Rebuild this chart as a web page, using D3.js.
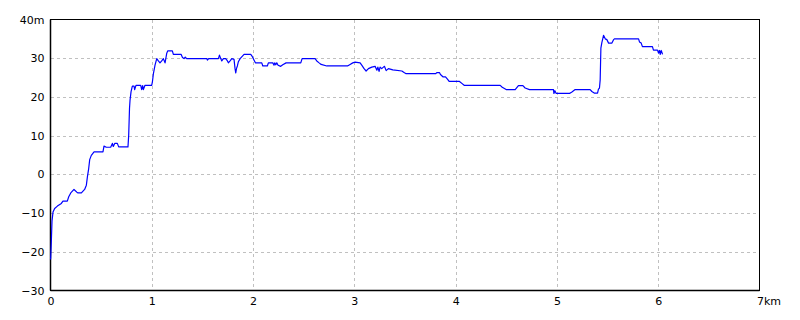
<!DOCTYPE html>
<html><head><meta charset="utf-8">
<script src="https://cdn.jsdelivr.net/npm/d3@7"></script>
<style>
html,body{margin:0;padding:0;background:#fff;}
svg{display:block;}
text{font-family:"DejaVu Sans",sans-serif;font-size:11px;fill:#000;}
</style></head><body>
<svg id="c" width="800" height="320"></svg>
<script>
const distKm = [0.000,0.002,0.008,0.015,0.025,0.041,0.068,0.107,0.123,0.166,0.180,0.200,0.232,0.260,0.272,0.305,0.337,0.354,0.364,0.377,0.387,0.403,0.430,0.518,0.528,0.551,0.594,0.611,0.620,0.634,0.660,0.673,0.765,0.772,0.780,0.785,0.795,0.808,0.825,0.831,0.844,0.891,0.900,0.910,0.917,0.933,0.999,1.006,1.016,1.032,1.049,1.065,1.081,1.098,1.114,1.131,1.147,1.157,1.203,1.213,1.289,1.303,1.318,1.330,1.345,1.543,1.549,1.562,1.658,1.668,1.681,1.691,1.707,1.730,1.747,1.756,1.773,1.790,1.812,1.822,1.829,1.836,1.845,1.855,1.872,1.911,1.977,1.993,2.010,2.023,2.086,2.096,2.141,2.151,2.195,2.207,2.214,2.224,2.234,2.247,2.273,2.293,2.326,2.471,2.484,2.612,2.629,2.652,2.672,2.728,2.932,2.958,2.984,3.007,3.057,3.073,3.096,3.116,3.139,3.172,3.205,3.222,3.232,3.244,3.254,3.270,3.287,3.297,3.314,3.336,3.380,3.469,3.491,3.511,3.804,3.814,3.840,3.850,3.874,3.900,3.919,3.936,4.038,4.061,4.084,4.440,4.460,4.499,4.588,4.620,4.664,4.686,4.729,4.966,4.970,4.980,4.993,5.124,5.148,5.180,5.328,5.345,5.368,5.401,5.410,5.420,5.427,5.434,5.444,5.454,5.460,5.477,5.493,5.510,5.543,5.559,5.570,5.806,5.815,5.832,5.844,5.943,5.953,5.993,6.003,6.013,6.020,6.030,6.043];
const elevM = [-22,-21.5,-17.5,-12,-9.7,-8.8,-8.2,-7.5,-6.9,-6.9,-5.8,-4.8,-3.9,-4.6,-4.8,-4.8,-3.9,-2.8,-0.7,1.5,3.8,4.9,5.8,5.8,7.3,7.0,7.0,8.0,7.2,8.0,8.0,7.1,7.1,10.1,17,19.1,21.3,22.8,22.8,21.9,23.0,23.0,21.9,22.9,21.9,23.0,23.0,23.9,26.0,28.2,29.9,29.3,28.8,29.3,29.9,28.8,31.2,31.9,31.9,31.0,31.0,30.2,29.9,30.3,29.9,29.9,29.5,29.9,29.9,30.8,29.9,29.3,29.9,29.9,29.3,28.8,29.3,29.9,29.7,27.3,26.2,27.3,28.0,29.1,29.9,31.0,31.0,30.4,29.5,28.8,28.8,28.0,28.0,28.8,28.8,28.2,28.8,28.3,28.8,28.2,27.9,28.3,28.8,28.8,29.9,29.9,29.3,28.8,28.4,28.0,28.0,28.4,28.8,29.0,28.8,28.2,27.3,26.7,27.3,27.7,27.9,26.9,27.7,26.6,27.7,27.3,27.7,27.9,26.8,27.3,27.0,26.7,26.3,26.0,26.0,26.3,26.3,25.8,25.2,25.2,24.6,24.0,24.0,23.5,23.0,23.0,22.5,21.9,21.9,22.9,22.9,22.3,21.9,21.9,20.9,21.6,20.9,20.9,21.3,21.9,21.9,21.4,21.0,21.0,22.0,22.3,24.4,32.6,34.1,35.2,35.9,35.0,34.8,33.9,33.9,34.8,35.0,35.0,34.2,33.9,33.0,33.0,32.1,32.1,31.3,32.0,31.0,32.0,31.0];
const xTicks = [0,1,2,3,4,5,6,7];
const yTicks = [-30,-20,-10,0,10,20,30,40];
const xUnit = "km", yUnit = "m";

const svg = d3.select("#c");
const L = 50.5, R = 759.5, T = 19.5, B = 290.5;
const x = d3.scaleLinear().domain([0,7]).range([L,R]);
const y = d3.scaleLinear().domain([-30,40]).range([B,T]);

// grid
const g = svg.append("g");
g.selectAll(".vg").data(xTicks.slice(1,-1)).join("line")
  .attr("x1",d=>Math.round(x(d))+0.5).attr("x2",d=>Math.round(x(d))+0.5)
  .attr("y1",T).attr("y2",B)
  .attr("stroke","#c0c0c0").attr("stroke-dasharray","3,3").attr("shape-rendering","crispEdges");
g.selectAll(".hg").data(yTicks.slice(1,-1)).join("line")
  .attr("y1",d=>Math.round(y(d))+0.5).attr("y2",d=>Math.round(y(d))+0.5)
  .attr("x1",L).attr("x2",R)
  .attr("stroke","#c0c0c0").attr("stroke-dasharray","3,3").attr("shape-rendering","crispEdges");

// frame
svg.append("rect").attr("x",L).attr("y",T).attr("width",R-L).attr("height",B-T)
  .attr("fill","none").attr("stroke","#000").attr("stroke-width",1).attr("shape-rendering","crispEdges");
svg.append("line").attr("x1",L).attr("x2",L).attr("y1",T).attr("y2",B).attr("stroke","#000").attr("stroke-width",1.5);
svg.append("line").attr("x1",L).attr("x2",R).attr("y1",B).attr("y2",B).attr("stroke","#000").attr("stroke-width",1.5);

// axes via d3
const xa = d3.axisBottom(x).tickValues(xTicks).tickSize(0).tickPadding(5)
  .tickFormat(d=> d===7 ? d+"" : d+"");
const xg = svg.append("g").attr("transform",`translate(0,${B})`).call(xa);
xg.select(".domain").remove();
xg.selectAll("text").attr("dy","0.9em").style("font-family","DejaVu Sans").style("font-size","11px");
xg.selectAll(".tick").filter(d=>d===7).select("text").attr("text-anchor","start").attr("dx","-3px").text(d=>d+xUnit);

const ya = d3.axisLeft(y).tickValues(yTicks).tickSize(0).tickPadding(6)
  .tickFormat(d=> d===40 ? d+yUnit : (d<0 ? "\u2212"+Math.abs(d) : d+""));
const yg = svg.append("g").attr("transform",`translate(${L},0)`).call(ya);
yg.select(".domain").remove();
yg.selectAll("text").style("font-family","DejaVu Sans").style("font-size","11px");

// line
const pts = distKm.map((d,i)=>[d,elevM[i]]);
svg.append("path").datum(pts)
  .attr("d", d3.line().x(d=>x(d[0])).y(d=>y(d[1])))
  .attr("fill","none").attr("stroke","#0000ff").attr("stroke-width",1.2).attr("stroke-linejoin","round");
</script>
</body></html>
